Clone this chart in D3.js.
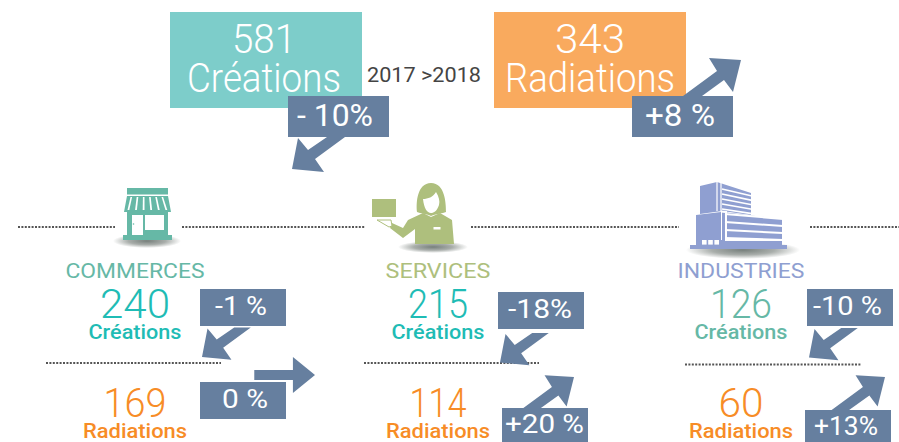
<!DOCTYPE html>
<html>
<head>
<meta charset="utf-8">
<script src="https://cdn.jsdelivr.net/npm/d3@7"></script>
<style>
  html, body { margin: 0; padding: 0; background: #fff; }
  svg { display: block; }
  text { font-family: Roboto, sans-serif; text-anchor: middle; }
</style>
</head>
<body>
<div class="infographic"></div>
<script>
// totals
const totalValues = [581, 343]
const totalNames = ['Créations', 'Radiations']
const totalChanges = [-10, 8]
const totalChangeLabels = ['- 10%', '+8 %']
const periodLabel = '2017 >2018'

// sectors
const sectors = ['COMMERCES', 'SERVICES', 'INDUSTRIES']
const creations = [240, 215, 126]
const radiations = [169, 114, 60]
const creationChanges = [-1, -18, -10]
const radiationChanges = [0, 20, 13]
const creationLabels = ['-1 %', '-18%', '-10 %']
const radiationLabels = ['0 %', '+20 %', '+13%']

const width = 899
const height = 442
const blue = '#667f9f'
const teal = '#1fbcb5'
const orange = '#f78c26'

const sectorX = d3.scalePoint().domain(sectors).range([135, 741])
const sectorColor = d3.scaleOrdinal().domain(sectors).range(['#66b8a6', '#aebf7d', '#8f9fd1'])

const svg = d3.select('.infographic').append('svg')
  .attr('width', width)
  .attr('height', height)
  .attr('viewBox', [0, 0, width, height])

const defs = svg.append('defs')
const shadow = defs.append('radialGradient').attr('id', 'shadow')
shadow.append('stop').attr('offset', '0%').attr('stop-color', '#77807c')
shadow.append('stop').attr('offset', '55%').attr('stop-color', '#a9aeab')
shadow.append('stop').attr('offset', '100%').attr('stop-color', '#fff')

// arrow outlines, local coords with the tip at 0,0
const arrowDown = [[0, 0], [6, -31], [16, -19], [35, -32], [53, -32], [23, -10], [32, 3]]
const arrowUp = [[0, 0], [-32, -2], [-24, 11], [-58, 36], [-39, 36], [-17, 20], [-8, 32]]
const arrowFlat = [[0, 0], [-24, -19.5], [-24, -5.5], [-66, -5.5], [-66, 5.5], [-24, 5.5], [-24, 19.5]]

const drawArrow = (change, x, y, k = 1) => {
  const shape = change < 0 ? arrowDown : change > 0 ? arrowUp : arrowFlat
  svg.append('path')
    .attr('d', d3.line()(shape) + 'Z')
    .attr('transform', `translate(${x},${y}) scale(${k})`)
    .attr('fill', blue)
}

const drawBadge = (txt, box, base, size, tw) => {
  svg.append('rect').attr('x', box[0]).attr('y', box[1]).attr('width', box[2]).attr('height', box[3]).attr('fill', blue)
  label(txt, tw[0], base, size, '#fff', 400, tw[1])
}

const dotted = (x1, x2, y) => {
  svg.append('line')
    .attr('x1', x1).attr('x2', x2).attr('y1', y).attr('y2', y)
    .attr('stroke', '#555').attr('stroke-width', 2.2)
    .attr('stroke-dasharray', '2 1.4')
}

const label = (txt, x, y, size, color, weight = 400, w = null) => {
  const t = svg.append('text')
    .attr('x', x).attr('y', y)
    .attr('font-size', size).attr('font-weight', weight).attr('fill', color)
    .text(txt)
  if (w) t.attr('textLength', w).attr('lengthAdjust', 'spacingAndGlyphs')
  return t
}

// separators
;[[18, 115, 227], [182, 365, 227], [471, 679, 227], [810, 899, 227],
  [46, 221, 363], [364, 539, 363], [685, 861, 364.5]].forEach(d => dotted(...d))

// icons
const shade = (cx, cy, rx, ry) => svg.append('ellipse')
  .attr('cx', cx).attr('cy', cy).attr('rx', rx).attr('ry', ry).attr('fill', 'url(#shadow)')

const drawShop = (c) => {
  shade(147, 241, 34, 7)
  const g = svg.append('g').attr('fill', c)
  g.append('rect').attr('x', 127).attr('y', 188).attr('width', 41).attr('height', 6.5)
  g.append('path').attr('d', 'M127 196H168L171 212H124Z')
  g.append('rect').attr('x', 127).attr('y', 212).attr('width', 41).attr('height', 24)
  g.append('rect').attr('x', 123).attr('y', 235).attr('width', 49).attr('height', 5)
  const w = svg.append('g').attr('fill', '#fff')
  d3.range(6).forEach(i => {
    const a = 130.5 + i * 6.2, b = 127.5 + i * 7.6
    w.append('path').attr('d', `M${a} 197L${a + 1.6} 197L${b + 1.8} 210L${b} 210Z`)
  })
  w.append('rect').attr('x', 132).attr('y', 215).attr('width', 11).attr('height', 20)
  w.append('rect').attr('x', 145).attr('y', 215).attr('width', 19).attr('height', 15)
  svg.append('circle').attr('cx', 133.5).attr('cy', 224).attr('r', 0.8).attr('fill', c)
}

const drawPerson = (c) => {
  shade(433, 247, 35, 6)
  const g = svg.append('g').attr('fill', c)
  g.append('rect').attr('x', 372).attr('y', 199).attr('width', 24).attr('height', 18)
  g.append('path').attr('d', 'M417 212C416 203 417 183 431 183C445 183 446 203 446 212C442 214 438 213 431 216C425 213 421 214 417 212Z')
  g.append('path').attr('d', 'M423 213L431 217L440 213L452 220L454 244H415V229L403 238L390 228L392 223L403 228L408 220Z')
  g.append('path').attr('d', 'M377 220H391L392 226L389 227Z').attr('fill', '#fff').attr('stroke', c).attr('stroke-width', 1)
  svg.append('path').attr('d', 'M423 199C428 199 433 197 436 192C439 197 440 201 439 205C437 211 434 213 431 213C427 213 424 208 423 199Z').attr('fill', '#fff')
  svg.append('rect').attr('x', 433.5).attr('y', 227).attr('width', 7).attr('height', 2.5).attr('fill', '#fff')
}

const drawBuilding = (c) => {
  shade(743, 250, 57, 9)
  const g = svg.append('g').attr('fill', c)
  g.append('path').attr('d', 'M700 186L717 182L751 193V215L722 211L700 214Z')
  g.append('path').attr('d', 'M696 215L721 212V241H696Z')
  g.append('path').attr('d', 'M722 212L782 219V240L722 240Z')
  g.append('path').attr('d', 'M690 245H787V249H690Z')
  g.append('path').attr('d', 'M696 240H782V246H696Z')
  const w = svg.append('g').attr('stroke', '#fff').attr('fill', 'none')
  w.append('path').attr('d', 'M717 182V211').attr('stroke-width', 1.2)
  w.append('path').attr('d', 'M721 183L721 211').attr('stroke-width', 1.2)
  d3.range(5).forEach(i => {
    w.append('path').attr('d', `M722 ${189 + i * 5}L752 ${196 + i * 4.4}`).attr('stroke-width', 1.6)
  })
  w.append('path').attr('d', 'M721 211.5L726 212V238').attr('stroke-width', 2)
  d3.range(4).forEach(i => {
    w.append('path').attr('d', `M725 ${214 + i * 8}L783 ${219 + i * 7}`).attr('stroke-width', 2)
  })
  w.append('path').attr('d', 'M725 240H783').attr('stroke-width', 2)
  const f = svg.append('g').attr('fill', '#fff')
  d3.range(3).forEach(i => f.append('rect').attr('x', 702 + i * 6.2).attr('y', 240).attr('width', 4.6).attr('height', 4.6))
}

drawShop(sectorColor('COMMERCES'))
drawPerson(sectorColor('SERVICES'))
drawBuilding(sectorColor('INDUSTRIES'))

// totals block
const totalBoxX = d3.scaleOrdinal().domain(totalNames).range([170, 494])
const totalColor = d3.scaleOrdinal().domain(totalNames).range(['#7dcdca', '#f9aa5e'])
totalNames.forEach((name, i) => {
  const x = totalBoxX(name)
  svg.append('rect').attr('x', x).attr('y', 12).attr('width', 192).attr('height', 96).attr('fill', totalColor(name))
  label(totalValues[i], x + 94 + i * 2, 53, 40, '#fff', 300, i ? 70 : 64)
  label(name, x + 94 + i * 2, 91.5, 40, '#fff', 300, i ? 170 : 154)
})
label(periodLabel, 424, 82, 20, '#444', 400, 114)

drawArrow(totalChanges[0], 292, 169)
drawArrow(totalChanges[1], 741, 60)
drawBadge(totalChangeLabels[0], [288, 96, 101, 41], 126, 31, [335, 76])
drawBadge(totalChangeLabels[1], [632, 96, 101, 41], 126, 31, [680, 70])

// sector columns; layout follows each column's own badges
const creationBadge = [[200, 289, 86, 37], [498, 292, 86, 37], [807, 289, 86, 37]]
const radiationBadge = [[200, 382, 86, 37], [502, 408, 86, 37], [805, 410, 86, 37]]
const creationBase = [315, 318, 315]
const radiationBase = [408, 433, 435]
const creationText = [[241, 52], [540, 64], [847.5, 69]]
const radiationText = [[245, 46], [544.5, 79], [846, 64]]
const creationTip = [[202, 357], [500, 362.5], [809, 357.5]]
const radiationTip = [[315, 375], [574, 377], [885, 377]]
const creationColor = [teal, teal, '#66b8a6']

sectors.forEach((s, i) => {
  const cx = sectorX(s)
  const k = 0.92
  label(s, cx, 278, 21, sectorColor(s), 400, [139, 105, 127][i])
  label(creations[i], cx, 318, 40, creationColor[i], 300, [70, 60, 62][i])
  label('Créations', cx, 339, 21, creationColor[i], 500, 93)
  label(radiations[i], cx, 417, 40, orange, 300, [63, 57, 45][i])
  label('Radiations', cx, 438, 21, orange, 500, 104)

  drawArrow(creationChanges[i], creationTip[i][0], creationTip[i][1], k)
  drawArrow(radiationChanges[i], radiationTip[i][0], radiationTip[i][1], k)
  drawBadge(creationLabels[i], creationBadge[i], creationBase[i], 25, creationText[i])
  drawBadge(radiationLabels[i], radiationBadge[i], radiationBase[i], 25, radiationText[i])
})
</script>
</body>
</html>
